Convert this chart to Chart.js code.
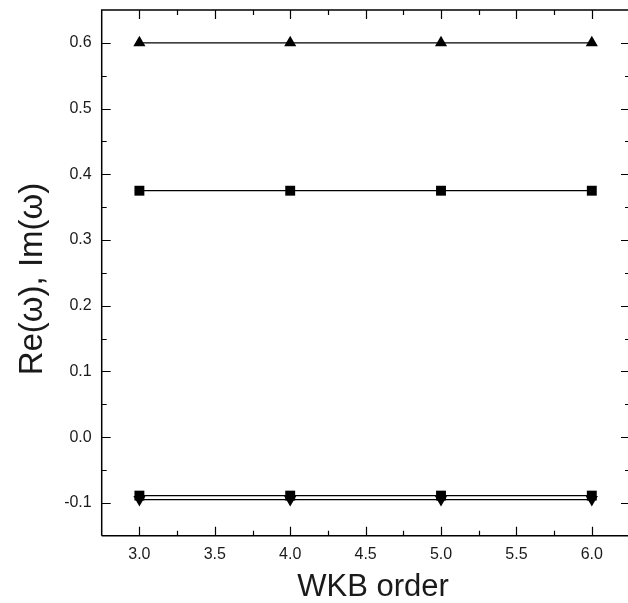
<!DOCTYPE html>
<html>
<head>
<meta charset="utf-8">
<script src="https://cdn.jsdelivr.net/npm/chart.js@4/dist/chart.umd.min.js"></script>
<style>
  html, body { margin: 0; padding: 0; background: #fff; }
  #wrap { width: 628px; height: 603px; }
</style>
</head>
<body>
<div id="wrap"><canvas id="c" width="628" height="603"></canvas></div>
<script>
// WKB orders on the horizontal axis
const wkbOrders = [3, 4, 5, 6];

// Real and imaginary parts of the quasinormal frequency for each order
const reUpper = [0.600, 0.600, 0.600, 0.600];     // triangles
const reLower = [0.375, 0.375, 0.375, 0.375];     // squares
const imUpper = [-0.089, -0.089, -0.089, -0.089]; // squares
const imLower = [-0.095, -0.095, -0.095, -0.095]; // down triangles

// Tick labels and axis titles
const xTicks = [3.0, 3.5, 4.0, 4.5, 5.0, 5.5, 6.0];
const yTicks = [-0.1, 0.0, 0.1, 0.2, 0.3, 0.4, 0.5, 0.6];
const xTitle = 'WKB order';
const yTitle = 'Re(ω), Im(ω)';

const FONT = "'Liberation Sans', Arial, sans-serif";
const INK = '#1a1a1a';

function series(ys, style, rotation) {
  return {
    data: wkbOrders.map((x, i) => ({ x: x, y: ys[i] })),
    borderColor: '#000',
    backgroundColor: '#000',
    borderWidth: 1.2,
    pointStyle: style,
    rotation: rotation || 0,
    pointRadius: 7,
    pointHoverRadius: 7,
    pointBackgroundColor: '#000',
    pointBorderColor: '#000',
    pointBorderWidth: 0,
    showLine: true,
    tension: 0,
    fill: false,
    clip: false
  };
}

// Frame with inward major/minor ticks on all four sides, plus axis titles.
// The right edge of the frame sits just past the canvas edge.
const framePlugin = {
  id: 'frame',
  afterDraw(chart) {
    const { ctx, chartArea: a, scales } = chart;
    const xs = scales.x, ys = scales.y;
    const major = 9, minor = 5;
    const right = a.right + 2;
    ctx.save();
    ctx.strokeStyle = '#000';
    ctx.lineWidth = 1.5;
    ctx.beginPath();
    ctx.moveTo(a.left, a.bottom);
    ctx.lineTo(a.left, a.top);
    ctx.lineTo(right, a.top);
    ctx.lineTo(right, a.bottom);
    ctx.lineTo(a.left, a.bottom);
    ctx.stroke();
    ctx.lineWidth = 1.2;
    ctx.beginPath();
    for (let k = 12; k <= 24; k++) {
      const v = k * 0.25;
      const px = Math.round(xs.getPixelForValue(v)) + 0.5;
      const len = (k % 2 === 0) ? major : minor;
      ctx.moveTo(px, a.bottom); ctx.lineTo(px, a.bottom - len);
      ctx.moveTo(px, a.top); ctx.lineTo(px, a.top + len);
    }
    for (let k = -2; k <= 12; k++) {
      const v = k * 0.05;
      const py = Math.round(ys.getPixelForValue(v)) + 0.5;
      const len = (k % 2 === 0) ? major : minor;
      ctx.moveTo(a.left, py); ctx.lineTo(a.left + len, py);
      ctx.moveTo(right, py); ctx.lineTo(right - len, py);
    }
    ctx.stroke();

    ctx.fillStyle = INK;
    ctx.textAlign = 'center';
    ctx.textBaseline = 'alphabetic';
    ctx.font = '31px ' + FONT;
    ctx.fillText(xTitle, 373, 596);
    ctx.translate(42, 279);
    ctx.rotate(-Math.PI / 2);
    ctx.font = '33px ' + FONT;
    ctx.fillText(yTitle, 0, 0);
    ctx.restore();
  }
};

new Chart(document.getElementById('c'), {
  type: 'line',
  data: {
    datasets: [
      series(reUpper, 'triangle'),
      series(reLower, 'rect'),
      series(imUpper, 'rect'),
      series(imLower, 'triangle', 180)
    ]
  },
  options: {
    responsive: false,
    animation: false,
    devicePixelRatio: 1,
    layout: { autoPadding: false, padding: { top: 10, right: 0, left: 0, bottom: 0 } },
    plugins: { legend: { display: false }, tooltip: { enabled: false } },
    scales: {
      x: {
        type: 'linear',
        position: 'bottom',
        min: 2.75,
        max: 6.24,
        afterBuildTicks(s) { s.ticks = xTicks.map(v => ({ value: v })); },
        afterFit(s) { s.height = 67.3; s.paddingLeft = 0; s.paddingRight = 0; },
        grid: { display: false, drawTicks: false },
        border: { display: false },
        ticks: {
          padding: 9,
          color: INK,
          font: { family: FONT, size: 16 },
          maxRotation: 0,
          callback: v => Number(v).toFixed(1)
        },
        title: { display: false }
      },
      y: {
        type: 'linear',
        min: -0.15,
        max: 0.65,
        afterBuildTicks(s) { s.ticks = yTicks.map(v => ({ value: v })); },
        afterFit(s) { s.width = 101.7; s.paddingTop = 0; s.paddingBottom = 0; },
        grid: { display: false, drawTicks: false },
        border: { display: false },
        ticks: {
          padding: 10,
          color: INK,
          font: { family: FONT, size: 16 },
          callback: v => Number(v).toFixed(1)
        },
        title: { display: false }
      }
    }
  },
  plugins: [framePlugin]
});
</script>
</body>
</html>
